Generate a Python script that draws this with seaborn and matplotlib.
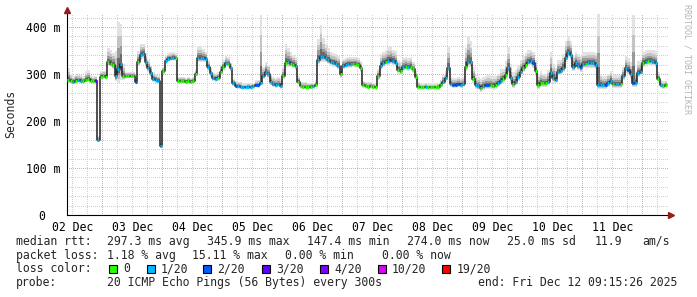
import numpy as np
import pandas as pd
import matplotlib
matplotlib.use("Agg")
import matplotlib.pyplot as plt
from matplotlib.patches import Rectangle
from matplotlib.lines import Line2D
import seaborn as sns

# ---------------- data (hourly, starting Dec 02 ~09:15) ----------------
median_ms = [
    287, 285, 284, 286, 287, 286, 285, 288, 290, 286, 285, 286,
    160, 294, 295, 294, 325, 322, 320, 295, 310, 322, 296, 295,
    296, 296, 296, 284, 325, 340, 343, 325, 312, 302, 290, 288,
    286, 147, 306, 327, 333, 334, 335, 334, 286, 285, 285, 284,
    285, 284, 285, 300, 334, 334, 334, 333, 315, 302, 291, 290,
    292, 305, 315, 323, 321, 312, 280, 275, 274, 273, 272, 272,
    273, 272, 274, 277, 276, 281, 296, 305, 300, 283, 278, 276,
    278, 275, 296, 324, 325, 322, 320, 317, 284, 274, 273, 273,
    273, 273, 274, 277, 330, 337, 336, 335, 330, 326, 324, 322,
    318, 300, 318, 320, 321, 321, 322, 321, 320, 313, 276, 274,
    273, 274, 273, 272, 296, 317, 323, 326, 328, 329, 327, 324,
    309, 306, 315, 316, 314, 316, 310, 294, 273, 272, 272, 273,
    272, 272, 272, 272, 272, 276, 284, 291, 313, 279, 277, 277,
    278, 277, 278, 316, 326, 325, 290, 277, 274, 270, 274, 276,
    277, 276, 275, 276, 281, 285, 290, 297, 312, 291, 279, 284,
    294, 305, 313, 320, 326, 327, 323, 306, 276, 281, 281, 280,
    284, 302, 292, 288, 305, 306, 313, 335, 345, 341, 316, 323,
    318, 314, 322, 322, 323, 323, 323, 320, 277, 276, 276, 276,
    281, 286, 278, 278, 278, 279, 295, 313, 309, 300, 281, 281,
    302, 305, 323, 326, 327, 327, 326, 324, 290, 276, 275, 276,
]
loss_level = [
    0, 0, 1, 0, 1, 1, 0, 0, 0, 0, 0, 3,
    1, 0, 0, 0, 0, 0, 0, 1, 1, 1, 0, 0,
    0, 0, 0, 2, 0, 1, 1, 1, 1, 1, 1, 1,
    1, 1, 0, 1, 1, 1, 1, 0, 0, 0, 0, 0,
    0, 0, 0, 0, 1, 1, 1, 1, 1, 1, 1, 1,
    0, 0, 0, 1, 0, 1, 1, 2, 1, 1, 1, 1,
    1, 1, 1, 2, 2, 1, 1, 1, 1, 1, 1, 1,
    1, 1, 0, 0, 1, 0, 0, 1, 0, 0, 0, 0,
    0, 0, 1, 0, 1, 1, 1, 1, 1, 1, 1, 1,
    1, 0, 1, 1, 1, 1, 0, 0, 0, 0, 0, 0,
    0, 0, 0, 0, 0, 1, 1, 0, 1, 2, 1, 1,
    0, 0, 1, 0, 1, 0, 0, 0, 0, 0, 0, 1,
    0, 0, 0, 0, 0, 0, 1, 1, 1, 1, 2, 2,
    2, 1, 1, 0, 1, 1, 0, 1, 1, 0, 1, 2,
    2, 0, 0, 0, 1, 1, 0, 0, 1, 1, 0, 1,
    1, 1, 0, 0, 1, 1, 2, 0, 0, 0, 0, 0,
    1, 1, 1, 1, 1, 1, 1, 1, 1, 1, 1, 1,
    1, 2, 1, 0, 1, 1, 1, 1, 1, 1, 1, 2,
    1, 1, 0, 1, 1, 0, 1, 1, 2, 1, 2, 1,
    1, 1, 0, 1, 0, 1, 1, 1, 0, 1, 0, 0,
]
smoke_up = [
    25, 15, 12, 15, 12, 12, 10, 18, 18, 12, 10, 10,
    8, 12, 12, 15, 30, 30, 25, 55, 100, 85, 25, 10,
    8, 8, 8, 12, 25, 25, 22, 20, 20, 18, 15, 12,
    12, 10, 10, 12, 12, 12, 12, 10, 8, 8, 8, 8,
    8, 8, 8, 10, 25, 25, 20, 15, 15, 12, 12, 12,
    12, 15, 15, 15, 15, 12, 10, 10, 10, 10, 8, 8,
    8, 8, 8, 10, 12, 145, 20, 20, 20, 18, 15, 15,
    15, 15, 20, 40, 30, 25, 20, 20, 12, 10, 10, 10,
    8, 8, 8, 10, 45, 68, 40, 30, 25, 20, 20, 20,
    20, 15, 15, 15, 15, 15, 15, 15, 15, 15, 10, 10,
    10, 10, 8, 8, 15, 25, 25, 25, 30, 30, 25, 25,
    20, 20, 20, 20, 20, 20, 15, 12, 10, 8, 8, 8,
    8, 8, 8, 8, 10, 12, 15, 15, 45, 15, 15, 15,
    15, 15, 15, 40, 55, 45, 25, 20, 20, 20, 20, 20,
    20, 20, 20, 20, 20, 25, 20, 30, 45, 30, 25, 25,
    25, 25, 25, 25, 25, 25, 25, 25, 25, 25, 20, 20,
    25, 45, 30, 25, 25, 25, 30, 35, 35, 30, 25, 25,
    25, 25, 25, 25, 25, 25, 25, 25, 150, 25, 20, 20,
    20, 20, 20, 20, 20, 20, 20, 25, 25, 25, 145, 25,
    25, 25, 25, 25, 25, 25, 25, 25, 15, 12, 10, 10,
]
smoke_dn = [
    5, 5, 5, 5, 5, 5, 5, 5, 5, 5, 5, 5,
    5, 5, 5, 5, 8, 8, 10, 10, 28, 35, 8, 5,
    5, 5, 5, 5, 8, 10, 10, 10, 8, 8, 6, 6,
    6, 5, 6, 6, 6, 6, 6, 6, 5, 5, 5, 5,
    5, 5, 5, 5, 8, 8, 8, 8, 8, 8, 6, 6,
    6, 6, 6, 6, 6, 6, 6, 5, 5, 5, 5, 5,
    5, 5, 5, 5, 5, 5, 6, 6, 8, 6, 6, 6,
    6, 6, 6, 10, 10, 8, 8, 8, 6, 5, 5, 5,
    5, 5, 5, 5, 8, 12, 10, 10, 8, 8, 8, 8,
    8, 8, 8, 8, 8, 8, 8, 8, 8, 8, 5, 5,
    5, 5, 5, 5, 8, 8, 8, 8, 8, 8, 8, 8,
    8, 8, 8, 8, 8, 8, 8, 6, 5, 5, 5, 5,
    5, 5, 5, 5, 5, 5, 6, 6, 10, 6, 6, 6,
    6, 6, 6, 10, 10, 10, 8, 8, 8, 8, 8, 8,
    8, 8, 8, 8, 8, 8, 8, 8, 10, 10, 8, 8,
    8, 8, 8, 8, 8, 8, 10, 10, 8, 8, 8, 8,
    8, 10, 10, 8, 8, 8, 8, 10, 10, 10, 10, 10,
    10, 10, 10, 10, 10, 10, 10, 10, 8, 8, 8, 8,
    8, 8, 8, 8, 8, 8, 8, 10, 10, 10, 8, 8,
    8, 8, 8, 8, 8, 8, 8, 8, 8, 6, 6, 6,
]
day_labels = ["02 Dec", "03 Dec", "04 Dec", "05 Dec", "06 Dec",
              "07 Dec", "08 Dec", "09 Dec", "10 Dec", "11 Dec"]
y_ticks = [0, 100, 200, 300, 400]
y_tick_labels = ["0  ", "100 m", "200 m", "300 m", "400 m"]
loss_names = ["0", "1/20", "2/20", "3/20", "4/20", "10/20", "19/20"]
loss_colors = ["#26ff00", "#00b8ff", "#0059ff", "#5e00ff", "#7e00ff", "#dd00ff", "#ff0000"]

# ---------------- figure ----------------
sns.set_theme(style="white")
plt.rcParams["font.family"] = ["DejaVu Sans Mono"]
W, H = 697, 297
fig = plt.figure(figsize=(W / 100, H / 100), dpi=100)
fig.patch.set_facecolor("white")

def fx(px):
    return px / W

def fy(py):
    return 1 - py / H

ax = fig.add_axes([fx(67), fy(215), fx(669) - fx(67), fy(13) - fy(215)])
ax.set_facecolor("white")
n = len(median_ms)
hours = np.arange(n + 1)
med = np.array(median_ms + [median_ms[-1]], dtype=float)
up = np.array(smoke_up + [smoke_up[-1]], dtype=float)
dn = np.array(smoke_dn + [smoke_dn[-1]], dtype=float)

ax.set_xlim(0, 240.8)
ax.set_ylim(0, 430)

# grid (1px dots)
dot = dict(linewidth=0.72, linestyle=(0, (1, 2)), zorder=0.5, antialiased=False)
for v in range(20, 430, 20):
    if v % 100:
        ax.axhline(v, color="#d0d0d0", **dot)
for v in range(100, 430, 100):
    ax.axhline(v, color="#eca4a4", **dot)
off = 2.12
for k in range(0, 41):
    xv = off + 6 * k
    if xv > 240.8:
        break
    if (k - 2) % 4 == 0:
        ax.axvline(xv, color="#eca4a4", **dot)
    else:
        ax.axvline(xv, color="#d0d0d0", **dot)

# smoke
shades = [(1.0, "#e2e2e2"), (0.7, "#c4c4c4"), (0.45, "#9a9a9a"), (0.25, "#6a6a6a")]
for frac, col in shades:
    ax.fill_between(hours, med - dn * frac, med + up * frac, step="post",
                    color=col, linewidth=0, zorder=1)

# median line
df = pd.DataFrame({"hour": hours, "median": med})
sns.lineplot(data=df, x="hour", y="median", drawstyle="steps-post", color="#202020",
             linewidth=1.1, estimator=None, ax=ax, zorder=3)
seg_cols = [loss_colors[l] for l in loss_level]
ax.hlines(median_ms, np.arange(n) + 0.1, np.arange(n) + 0.9, colors=seg_cols,
          linewidth=2.2, zorder=4)

# axes styling
for s in ["top", "right"]:
    ax.spines[s].set_visible(False)
for s in ["left", "bottom"]:
    ax.spines[s].set_color("black")
    ax.spines[s].set_linewidth(0.8)
ax.set_xticks([off + 24 * k for k in range(len(day_labels))])
ax.set_xticklabels(day_labels)
ax.set_yticks(y_ticks)
ax.set_yticklabels(y_tick_labels)
ax.tick_params(axis="both", length=0, labelsize=8.3, colors="black")
ax.tick_params(axis="x", pad=4)
ax.tick_params(axis="y", pad=5)
ax.set_xlabel("")
ax.set_ylabel("")
ax.grid(False)

# arrows
fig.add_artist(Line2D([fx(67)], [fy(10)], marker="^", markersize=4.5, color="#9a1a1a",
                      transform=fig.transFigure))
fig.add_artist(Line2D([fx(671)], [fy(215)], marker=">", markersize=4.5, color="#9a1a1a",
                      transform=fig.transFigure))

# labels
fs = 8.3
fig.text(fx(11), fy(114), "Seconds", rotation=90, ha="center", va="center", fontsize=fs)
fig.text(fx(687.5), fy(59), "RRDTOOL / TOBI OETIKER", rotation=270, ha="center",
         va="center", fontsize=6, color="#b4b4b4")

def t(x, y, s):
    fig.text(fx(x), fy(y), s, ha="left", va="center", fontsize=fs)

r1, r2, r3, r4 = 241.5, 255.3, 269, 282.8
t(16, r1, "median rtt:")
t(107, r1, "297.3 ms avg")
t(207, r1, "345.9 ms max")
t(307, r1, "147.4 ms min")
t(407, r1, "274.0 ms now")
t(507, r1, "25.0 ms sd")
t(595, r1, "11.9")
t(642, r1, "am/s")
t(16, r2, "packet loss:")
t(107, r2, "1.18 % avg")
t(192, r2, "15.11 % max")
t(285, r2, "0.00 % min")
t(382, r2, "0.00 % now")
t(16, r3, "loss color:")
sq_x = [109, 147, 203, 262, 320, 378, 442]
lab_x = [123, 161, 217, 276, 334, 392, 457]
for sx, lx, c, name in zip(sq_x, lab_x, loss_colors, loss_names):
    fig.add_artist(Rectangle((fx(sx), fy(273)), fx(8), 8 / H, transform=fig.transFigure,
                             facecolor=c, edgecolor="black", linewidth=0.8))
    t(lx, r3, name)
t(16, r4, "probe:")
t(107, r4, "20 ICMP Echo Pings (56 Bytes) every 300s")
t(478, r4, "end: Fri Dec 12 09:15:26 2025")

fig.savefig("out.png", dpi=100, facecolor="white")
